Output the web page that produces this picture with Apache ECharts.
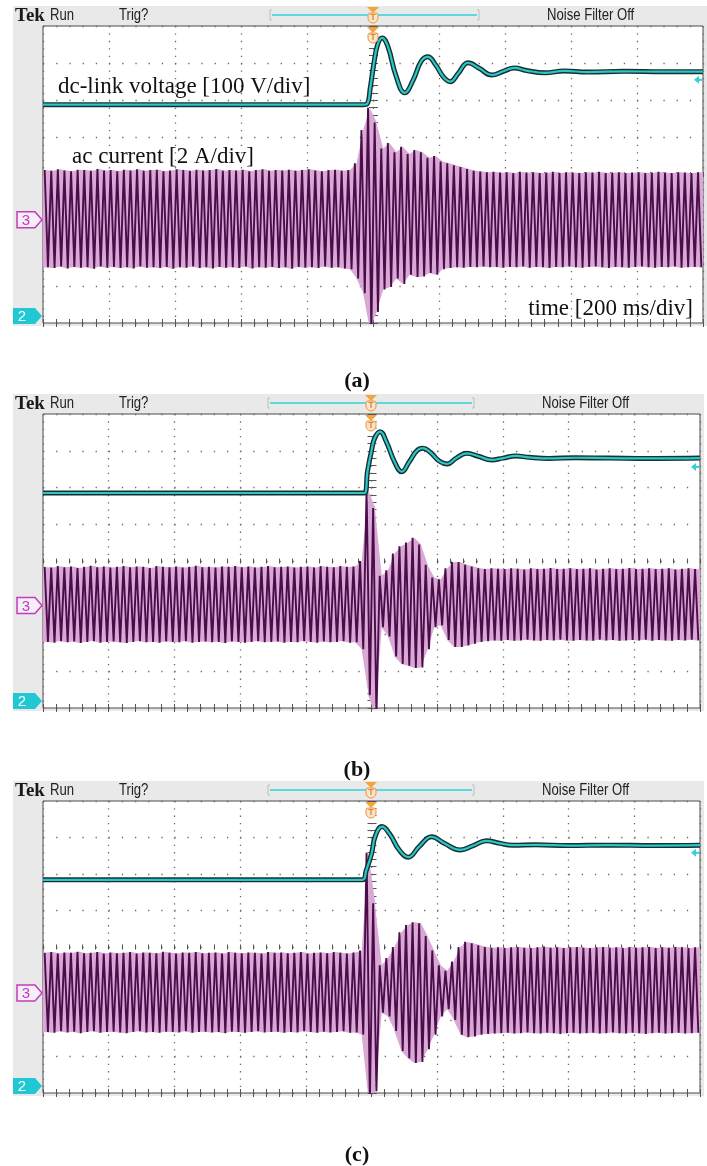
<!DOCTYPE html>
<html>
<head>
<meta charset="utf-8">
<script src="https://cdn.jsdelivr.net/npm/echarts@6/dist/echarts.min.js"></script>
<style>
html, body { margin: 0; padding: 0; background: #fff; }
#scope_chart { width: 707px; height: 1166px; }
</style>
</head>
<body>
<div id="scope_chart"></div>
<script>
// 示波器截图 scope_chart : x = 时间 ms (200 ms/div, trigger at 0), y = 屏幕格 (0..8 div)
var scope_chart = echarts.init(document.getElementById('scope_chart'))

var panelTags = ['(a)', '(b)', '(c)']
var traceLabels = ['dc-link voltage [100 V/div]', 'ac current [2 A/div]', 'time [200 ms/div]']

// dc-link voltage [ms, div]
var dcA = [[-1000, 5.88], [-30, 5.88], [-18, 5.9], [-8, 6.35], [2, 6.95], [14, 7.5], [28, 7.68], [45, 7.45], [70, 6.65], [96, 6.2], [122, 6.55], [146, 7.05], [166, 7.17], [190, 6.95], [214, 6.62], [234, 6.5], [258, 6.72], [288, 7.01], [322, 6.86], [360, 6.68], [395, 6.78], [428, 6.87], [465, 6.8], [520, 6.74], [580, 6.79], [650, 6.76], [760, 6.78], [880, 6.77], [1000, 6.77]]
var dcB = [[-1000, 5.85], [-22, 5.85], [-12, 6.45], [0, 7.0], [10, 7.35], [26, 7.52], [45, 7.25], [70, 6.7], [92, 6.43], [115, 6.7], [138, 7.0], [156, 7.07], [180, 6.95], [206, 6.72], [230, 6.64], [258, 6.8], [290, 6.93], [325, 6.85], [366, 6.75], [400, 6.8], [440, 6.86], [480, 6.82], [540, 6.79], [620, 6.81], [720, 6.8], [860, 6.79], [1000, 6.8]]
var dcC = [[-1000, 5.84], [-28, 5.84], [-16, 6.1], [0, 6.55], [12, 7.05], [32, 7.3], [55, 7.1], [85, 6.65], [112, 6.46], [145, 6.75], [183, 7.02], [220, 6.85], [270, 6.66], [310, 6.78], [350, 6.91], [390, 6.84], [430, 6.79], [500, 6.8], [600, 6.78], [720, 6.79], [860, 6.78], [1000, 6.79]]

// ac current: positive / negative peak of each 50 Hz cycle (div), 100 cycles on screen
var acHiA = [4.12, 4.10, 4.14, 4.11, 4.09, 4.13, 4.12, 4.10, 4.15, 4.11,
  4.12, 4.09, 4.13, 4.11, 4.14, 4.10, 4.12, 4.13, 4.09, 4.11,
  4.14, 4.12, 4.10, 4.13, 4.11, 4.12, 4.15, 4.10, 4.12, 4.11,
  4.13, 4.09, 4.12, 4.14, 4.10, 4.12, 4.11, 4.13, 4.10, 4.12,
  4.14, 4.11, 4.09, 4.12, 4.13, 4.10, 4.12, 4.30, 5.20, 5.80,
  5.40, 4.70, 4.85, 4.60, 4.75, 4.55, 4.66, 4.60, 4.45, 4.50,
  4.35, 4.30, 4.25, 4.20, 4.15, 4.10, 4.08, 4.06, 4.07, 4.05,
  4.06, 4.04, 4.07, 4.05, 4.06, 4.04, 4.05, 4.07, 4.04, 4.06,
  4.05, 4.04, 4.06, 4.05, 4.07, 4.04, 4.05, 4.06, 4.04, 4.05,
  4.06, 4.04, 4.05, 4.07, 4.05, 4.04, 4.06, 4.05, 4.04, 4.06]
var acLoA = [1.50, 1.48, 1.52, 1.47, 1.51, 1.49, 1.50, 1.46, 1.52, 1.49,
  1.51, 1.48, 1.50, 1.47, 1.52, 1.49, 1.50, 1.48, 1.51, 1.46,
  1.50, 1.49, 1.52, 1.48, 1.50, 1.47, 1.51, 1.49, 1.50, 1.48,
  1.52, 1.47, 1.50, 1.49, 1.51, 1.48, 1.50, 1.46, 1.51, 1.49,
  1.50, 1.48, 1.52, 1.49, 1.50, 1.47, 1.45, 1.20, 0.80, -0.20,
  0.30, 0.90, 0.97, 1.20, 1.05, 1.30, 1.24, 1.25, 1.35, 1.30,
  1.45, 1.48, 1.50, 1.49, 1.51, 1.50, 1.52, 1.50, 1.51, 1.49,
  1.51, 1.50, 1.52, 1.49, 1.51, 1.50, 1.48, 1.51, 1.50, 1.52,
  1.50, 1.49, 1.51, 1.52, 1.50, 1.48, 1.51, 1.50, 1.49, 1.51,
  1.52, 1.50, 1.49, 1.51, 1.50, 1.52, 1.49, 1.50, 1.51, 1.50]
var acHiB = [3.84, 3.82, 3.86, 3.83, 3.85, 3.81, 3.84, 3.87, 3.83, 3.85,
  3.82, 3.84, 3.86, 3.83, 3.85, 3.84, 3.81, 3.86, 3.84, 3.83,
  3.85, 3.82, 3.84, 3.87, 3.83, 3.84, 3.82, 3.85, 3.84, 3.86,
  3.83, 3.85, 3.82, 3.84, 3.86, 3.83, 3.84, 3.85, 3.82, 3.84,
  3.85, 3.82, 3.86, 3.84, 3.83, 3.86, 3.84, 3.85, 4.00, 5.93,
  5.44, 3.60, 3.75, 4.20, 4.40, 4.50, 4.63, 4.45, 3.90, 3.55,
  3.50, 3.80, 3.97, 3.97, 3.90, 3.85, 3.80, 3.78, 3.80, 3.79,
  3.78, 3.80, 3.79, 3.77, 3.80, 3.78, 3.79, 3.81, 3.78, 3.79,
  3.80, 3.78, 3.79, 3.80, 3.77, 3.79, 3.80, 3.78, 3.79, 3.81,
  3.78, 3.79, 3.80, 3.78, 3.79, 3.80, 3.77, 3.79, 3.80, 3.78]
var acLoB = [1.80, 1.78, 1.82, 1.79, 1.81, 1.77, 1.80, 1.82, 1.78, 1.80,
  1.81, 1.79, 1.77, 1.80, 1.82, 1.79, 1.80, 1.78, 1.81, 1.80,
  1.79, 1.82, 1.78, 1.80, 1.81, 1.79, 1.80, 1.77, 1.81, 1.80,
  1.78, 1.80, 1.82, 1.79, 1.80, 1.81, 1.78, 1.80, 1.79, 1.82,
  1.80, 1.78, 1.81, 1.79, 1.80, 1.82, 1.78, 1.79, 1.60, 0.35,
  -0.20, 2.20, 1.95, 1.40, 1.20, 1.15, 1.09, 1.10, 1.60, 2.20,
  2.25, 1.85, 1.66, 1.66, 1.70, 1.75, 1.80, 1.82, 1.84, 1.83,
  1.85, 1.83, 1.84, 1.86, 1.84, 1.83, 1.85, 1.84, 1.86, 1.84,
  1.83, 1.85, 1.84, 1.83, 1.86, 1.84, 1.85, 1.83, 1.84, 1.85,
  1.84, 1.86, 1.83, 1.85, 1.84, 1.83, 1.85, 1.84, 1.86, 1.84]
var acHiC = [3.84, 3.86, 3.82, 3.85, 3.84, 3.87, 3.83, 3.84, 3.86, 3.82,
  3.85, 3.83, 3.84, 3.86, 3.82, 3.85, 3.84, 3.83, 3.87, 3.84,
  3.82, 3.85, 3.84, 3.86, 3.83, 3.84, 3.85, 3.82, 3.86, 3.84,
  3.83, 3.85, 3.84, 3.82, 3.86, 3.84, 3.85, 3.83, 3.84, 3.86,
  3.82, 3.84, 3.85, 3.83, 3.86, 3.84, 3.82, 3.85, 3.90, 6.58,
  5.20, 3.50, 3.70, 4.00, 4.40, 4.60, 4.68, 4.65, 4.30, 3.90,
  3.50, 3.35, 3.60, 4.00, 4.14, 4.10, 4.05, 4.00, 3.98, 3.99,
  3.97, 3.99, 4.00, 3.98, 3.97, 3.99, 4.01, 3.98, 3.99, 3.97,
  3.99, 4.00, 3.98, 3.97, 3.99, 4.00, 3.98, 3.99, 3.97, 4.00,
  3.98, 3.99, 4.00, 3.97, 3.99, 3.98, 4.00, 3.99, 3.97, 3.99]
var acLoC = [1.67, 1.65, 1.69, 1.66, 1.68, 1.64, 1.67, 1.69, 1.65, 1.67,
  1.68, 1.66, 1.64, 1.67, 1.69, 1.66, 1.67, 1.65, 1.68, 1.67,
  1.66, 1.69, 1.65, 1.67, 1.68, 1.66, 1.67, 1.64, 1.68, 1.67,
  1.65, 1.67, 1.69, 1.66, 1.67, 1.68, 1.65, 1.67, 1.66, 1.69,
  1.67, 1.65, 1.68, 1.66, 1.67, 1.69, 1.65, 1.66, 1.60, -0.20,
  0.05, 2.20, 2.10, 1.70, 1.15, 0.95, 0.82, 0.85, 1.20, 1.60,
  2.10, 2.30, 2.00, 1.60, 1.53, 1.55, 1.60, 1.62, 1.63, 1.64,
  1.65, 1.63, 1.64, 1.66, 1.64, 1.63, 1.65, 1.64, 1.62, 1.64,
  1.65, 1.63, 1.64, 1.65, 1.63, 1.64, 1.66, 1.64, 1.63, 1.65,
  1.64, 1.62, 1.64, 1.65, 1.63, 1.64, 1.65, 1.63, 1.64, 1.65]

var acZero = [2.78, 2.79, 2.74] // ch3 ground marker (div)
var trigLevel = [6.55, 6.56, 6.58] // ch2 trigger level arrow (div)

var dcList = [dcA, dcB, dcC]
var acHiList = [acHiA, acHiB, acHiC]
var acLoList = [acLoA, acLoB, acLoC]

// 布局 (px)
var boxes = [
  { left: 43, top: 26, width: 660, height: 297, tx: 373, bar: [272, 477], noiseX: 547, tagY: 381 },
  { left: 43, top: 414, width: 657, height: 294, tx: 371, bar: [270, 472], noiseX: 542, tagY: 770 },
  { left: 43, top: 801, width: 657, height: 292, tx: 371, bar: [270, 472], noiseX: 542, tagY: 1155 },
]
var cycleMs = 20

function pxY(b, v) {
  return b.top + b.height * (1 - v / 8)
}

// 粉色底带: 相邻两个周期之间的梯形
function renderBand(params, api) {
  var i = params.dataIndexInside
  var n = params.dataInsideLength
  var j = Math.min(i + 1, n - 1)
  var t1 = api.value(0, i)
  var xs = i === 0 ? t1 - cycleMs / 2 : t1
  var xe = j > i ? api.value(0, j) : t1 + cycleMs / 2
  var pts = [
    api.coord([xs, api.value(2, i)]),
    api.coord([xe, api.value(2, j)]),
    api.coord([xe, api.value(1, j)]),
    api.coord([xs, api.value(1, i)]),
  ]
  pts[1][0] += 0.4
  pts[2][0] += 0.4
  return { type: 'polygon', shape: { points: pts }, style: { fill: '#d9a8d5' } }
}

var tickStyle = { color: '#555', width: 1 }

var grids = []
var xAxes = []
var yAxes = []
var series = []
var graphics = []

boxes.forEach(function (b, p) {
  grids.push({
    left: b.left,
    top: b.top,
    width: b.width,
    height: b.height,
    show: true,
    backgroundColor: '#fff',
    borderColor: '#4a4a4a',
    borderWidth: 1,
    containLabel: false,
  })
  var xDot = b.height / 40
  var yDot = b.width / 50
  // x: bottom border, top border, centre line
  var xBase = {
    gridIndex: p,
    type: 'value',
    min: -1000,
    max: 1000,
    interval: 200,
    axisLine: { show: false },
    axisLabel: { show: false },
    axisTick: { show: true, inside: true, length: 4, lineStyle: tickStyle },
    minorTick: { show: true, splitNumber: 5, length: 4, lineStyle: tickStyle },
    splitLine: { show: false },
  }
  xAxes.push(Object.assign({}, xBase, {
    position: 'bottom',
    splitLine: { show: true, lineStyle: { color: '#6a6a6a', width: 1.3, type: [1.3, xDot - 1.3] } },
  }))
  xAxes.push(Object.assign({}, xBase, { position: 'top' }))
  xAxes.push(Object.assign({}, xBase, {
    position: 'bottom',
    offset: -b.height / 2 + 2.5,
    axisTick: { show: true, inside: true, length: 5, lineStyle: tickStyle },
    minorTick: { show: true, splitNumber: 5, length: 5, lineStyle: tickStyle },
  }))
  var yBase = {
    gridIndex: p,
    type: 'value',
    min: 0,
    max: 8,
    interval: 1,
    axisLine: { show: false },
    axisLabel: { show: false },
    axisTick: { show: true, inside: true, length: 4, lineStyle: tickStyle },
    minorTick: { show: true, splitNumber: 5, length: 4, lineStyle: tickStyle },
    splitLine: { show: false },
  }
  yAxes.push(Object.assign({}, yBase, {
    position: 'left',
    splitLine: { show: true, lineStyle: { color: '#6a6a6a', width: 1.3, type: [1.3, yDot - 1.3] } },
  }))
  yAxes.push(Object.assign({}, yBase, { position: 'right' }))
  yAxes.push(Object.assign({}, yBase, {
    position: 'left',
    offset: -b.width / 2 + 2.5,
    axisTick: { show: true, inside: true, length: 5, lineStyle: tickStyle },
    minorTick: { show: true, splitNumber: 5, length: 5, lineStyle: tickStyle },
  }))

  // ac current: pink band + peak-to-peak trace
  var hi = acHiList[p]
  var lo = acLoList[p]
  var zig = []
  var band = []
  for (var i = 0; i < hi.length; i++) {
    var t0 = -1000 + cycleMs * i
    zig.push([t0 + cycleMs / 4, hi[i]])
    zig.push([t0 + (cycleMs * 3) / 4, lo[i]])
    band.push([t0 + cycleMs / 2, lo[i], hi[i]])
  }
  var ax = { xAxisIndex: p * 3, yAxisIndex: p * 3, silent: true, animation: false }
  series.push(Object.assign({ type: 'custom', name: 'ac band', data: band, renderItem: renderBand, clip: true, encode: { x: 0, y: [1, 2] }, z: 2 }, ax))
  series.push(Object.assign({ type: 'line', name: 'ac current', data: zig, symbol: 'none', lineStyle: { color: '#4a0d4a', width: 1.9 }, z: 3 }, ax))
  // dc-link voltage: dark outline + cyan core
  series.push(Object.assign({ type: 'line', name: 'dc outline', data: dcList[p], symbol: 'none', smooth: 0.45, lineStyle: { color: '#143030', width: 5 }, z: 4 }, ax))
  series.push(Object.assign({ type: 'line', name: 'dc-link voltage', data: dcList[p], symbol: 'none', smooth: 0.45, lineStyle: { color: '#2cc6c9', width: 2.2 }, z: 5 }, ax))

  // 面板装饰
  var right = b.left + b.width
  var bottom = b.top + b.height
  var hy = b.top - 11
  graphics.push({ type: 'rect', z: -10, silent: true, shape: { x: 13, y: b.top - 20, width: right + 4 - 13, height: b.height + 23 }, style: { fill: '#e9e9e9' } })
  graphics.push({ type: 'text', z: 100, x: 15, y: hy + 1, style: { text: 'Tek', font: 'bold 19px "Liberation Serif"', fill: '#1a1a1a', verticalAlign: 'middle', textVerticalAlign: 'middle' } })
  ;[['Run', 50], ['Trig?', 119], ['Noise Filter Off', b.noiseX]].forEach(function (h) {
    graphics.push({ type: 'text', z: 100, x: h[1], y: hy + 1, scaleX: 0.82, style: { text: h[0], font: '16px "Liberation Sans"', fill: '#222', verticalAlign: 'middle', textVerticalAlign: 'middle' } })
  })
  // time-position bar
  graphics.push({ type: 'line', z: 100, shape: { x1: b.bar[0], y1: hy, x2: b.bar[1], y2: hy }, style: { stroke: '#5fd9de', lineWidth: 2 } })
  graphics.push({ type: 'polyline', z: 100, shape: { points: [[b.bar[0], hy - 5], [b.bar[0] - 2, hy - 5], [b.bar[0] - 2, hy + 5], [b.bar[0], hy + 5]] }, style: { stroke: '#bdbdbd', lineWidth: 1, fill: null } })
  graphics.push({ type: 'polyline', z: 100, shape: { points: [[b.bar[1], hy - 5], [b.bar[1] + 2, hy - 5], [b.bar[1] + 2, hy + 5], [b.bar[1], hy + 5]] }, style: { stroke: '#bdbdbd', lineWidth: 1, fill: null } })
  // trigger markers
  ;[hy - 8, b.top + 1].forEach(function (ty) {
    graphics.push({ type: 'polygon', z: 101, shape: { points: [[b.tx - 6, ty], [b.tx + 6, ty], [b.tx, ty + 6]] }, style: { fill: '#f3a43c' } })
    graphics.push({ type: 'rect', z: 101, shape: { x: b.tx - 5, y: ty + 6, width: 10, height: 10, r: [2, 2, 5, 5] }, style: { fill: '#fbe4cc', stroke: '#e9953f', lineWidth: 1 } })
    graphics.push({ type: 'text', z: 102, x: b.tx, y: ty + 11, style: { text: 'T', font: 'bold 9px "Liberation Sans"', fill: '#e08a35', align: 'center', verticalAlign: 'middle', textAlign: 'center', textVerticalAlign: 'middle' } })
  })
  // ch3 ground marker
  var cy = pxY(b, acZero[p])
  graphics.push({ type: 'polygon', z: 101, shape: { points: [[17, cy - 8], [35, cy - 8], [42, cy], [35, cy + 8], [17, cy + 8]] }, style: { fill: '#f8eef8', stroke: '#c23cc0', lineWidth: 1.5 } })
  graphics.push({ type: 'text', z: 102, x: 26, y: cy + 1, style: { text: '3', font: '15px "Liberation Sans"', fill: '#c23cc0', align: 'center', verticalAlign: 'middle', textAlign: 'center', textVerticalAlign: 'middle' } })
  // ch2 marker (bottom)
  var by = bottom - 7
  graphics.push({ type: 'polygon', z: 101, shape: { points: [[13, by - 8], [35, by - 8], [42, by], [35, by + 8], [13, by + 8]] }, style: { fill: '#1fc8d3' } })
  graphics.push({ type: 'text', z: 102, x: 22, y: by + 1, style: { text: '2', font: '15px "Liberation Sans"', fill: '#fff', align: 'center', verticalAlign: 'middle', textAlign: 'center', textVerticalAlign: 'middle' } })
  // trigger level arrow (right)
  var ry = pxY(b, trigLevel[p])
  graphics.push({ type: 'polygon', z: 101, shape: { points: [[right - 9, ry], [right - 4, ry - 4], [right - 4, ry + 4]] }, style: { fill: '#35cfd8' } })
  graphics.push({ type: 'line', z: 101, shape: { x1: right - 5, y1: ry, x2: right - 1, y2: ry }, style: { stroke: '#35cfd8', lineWidth: 2 } })
  // caption
  graphics.push({ type: 'text', z: 100, x: 357, y: b.tagY, style: { text: panelTags[p], font: 'bold 22px "Liberation Serif"', fill: '#111', align: 'center', verticalAlign: 'middle', textAlign: 'center', textVerticalAlign: 'middle' } })
})

// (a) 的说明文字
var labelFont = '23px "Liberation Serif"'
graphics.push({ type: 'text', z: 110, x: 58, y: 87, style: { text: traceLabels[0], font: labelFont, fill: '#111', verticalAlign: 'middle', textVerticalAlign: 'middle' } })
graphics.push({ type: 'text', z: 110, x: 72, y: 157, style: { text: traceLabels[1], font: labelFont, fill: '#111', verticalAlign: 'middle', textVerticalAlign: 'middle' } })
graphics.push({ type: 'text', z: 110, x: 693, y: 309, style: { text: traceLabels[2], font: labelFont, fill: '#111', align: 'right', verticalAlign: 'middle', textAlign: 'right', textVerticalAlign: 'middle' } })

var scope_option = {
  animation: false,
  backgroundColor: '#fff',
  grid: grids,
  xAxis: xAxes,
  yAxis: yAxes,
  series: series,
  graphic: { elements: graphics },
}
scope_chart.setOption(scope_option)
</script>
</body>
</html>
